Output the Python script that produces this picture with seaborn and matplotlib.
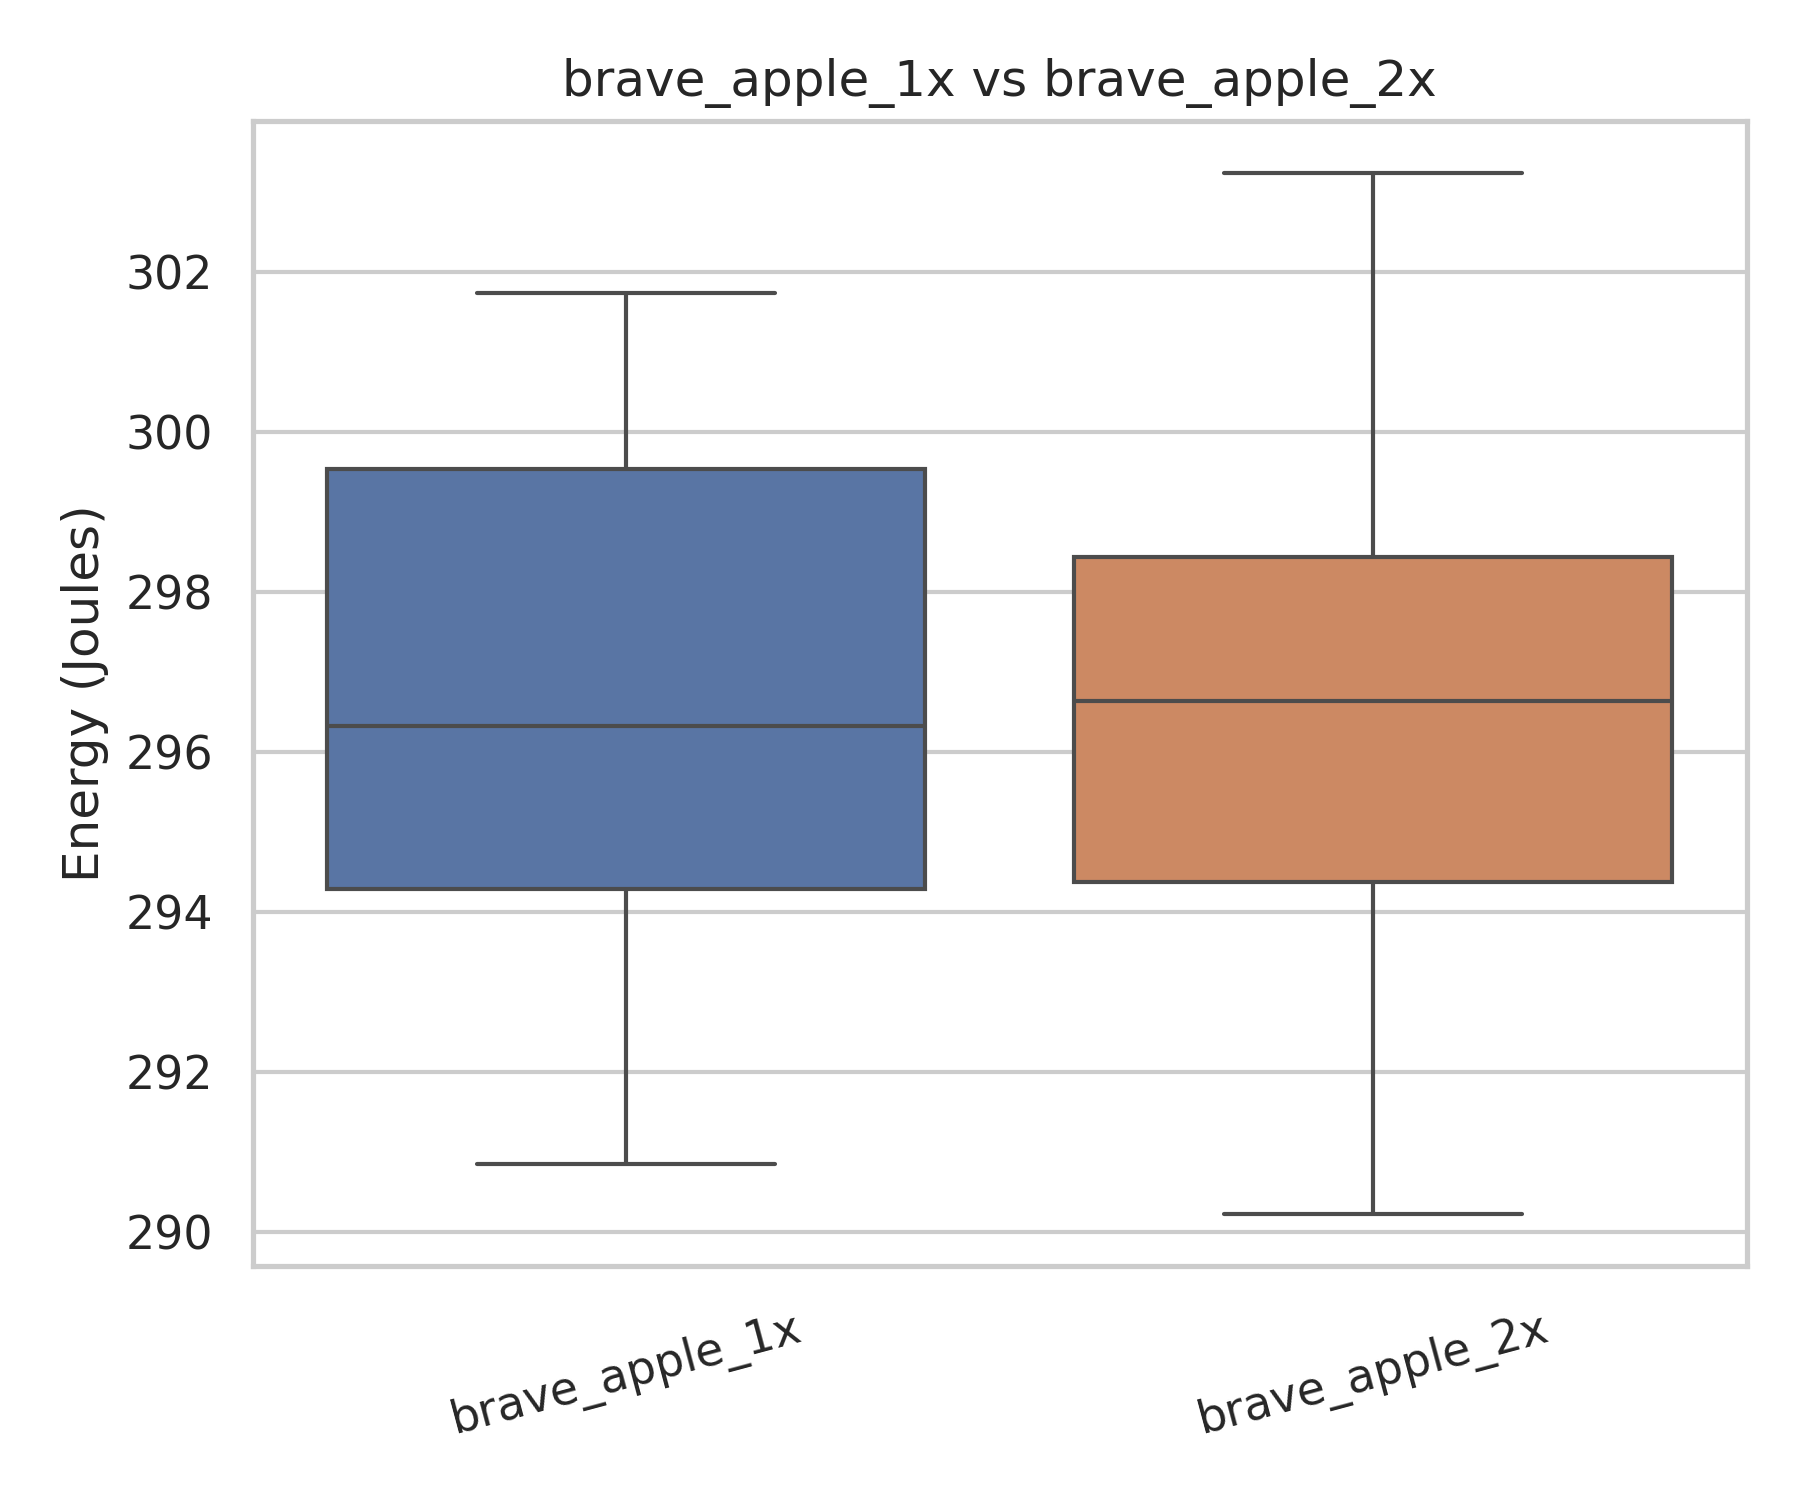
import matplotlib
matplotlib.use("Agg")
import matplotlib.pyplot as plt
import seaborn as sns
import pandas as pd

categories = ["brave_apple_1x", "brave_apple_2x"]
# five-number samples (min, Q1, median, Q3, max)
values_1x = [290.85, 294.29, 296.32, 299.53, 301.73]
values_2x = [290.23, 294.37, 296.64, 298.44, 303.23]

df = pd.DataFrame({
    "Variant": [categories[0]] * len(values_1x) + [categories[1]] * len(values_2x),
    "Energy": values_1x + values_2x,
})

sns.set_theme(style="whitegrid")
fig, ax = plt.subplots(figsize=(6, 5), dpi=300)
sns.boxplot(data=df, x="Variant", y="Energy", hue="Variant", palette="deep", ax=ax, legend=False)
ax.set_title("brave_apple_1x vs brave_apple_2x")
ax.set_xlabel("")
ax.set_ylabel("Energy (Joules)")
plt.setp(ax.get_xticklabels(), rotation=15)
fig.subplots_adjust(left=0.1403, right=0.9703, top=0.9193, bottom=0.156)
fig.savefig("out.png", dpi=300)
